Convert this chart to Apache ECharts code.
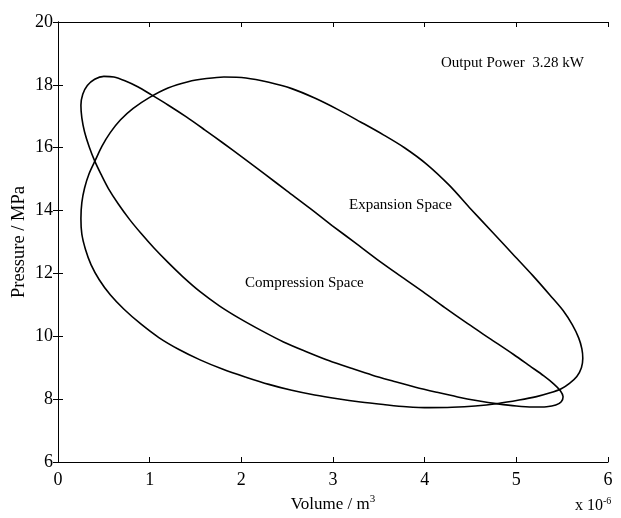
<!DOCTYPE html>
<html>
<head>
<meta charset="utf-8">
<script src="https://cdn.jsdelivr.net/npm/echarts@6/dist/echarts.min.js"></script>
<style>
  html, body { margin: 0; padding: 0; background: #fff; }
  #chart { width: 621px; height: 518px; }
</style>
</head>
<body>
<div id="chart"></div>
<script>
// Expansion space P-V loop (volume in 1e-6 m^3, pressure in MPa), traced clockwise
const expansionV = [4.74, 4.96, 5.18, 5.37, 5.51, 5.61, 5.68, 5.715, 5.725, 5.71, 5.66, 5.58, 5.49, 5.37, 5.22, 5.03, 4.80, 4.55, 4.30, 4.05, 3.80, 3.55, 3.30, 3.05, 2.80, 2.55, 2.30, 2.05, 1.80, 1.55, 1.32, 1.10, 0.90, 0.72, 0.57, 0.45, 0.36, 0.30, 0.26, 0.25, 0.26, 0.29, 0.34, 0.41, 0.48, 0.57, 0.68, 0.82, 1.00, 1.20, 1.42, 1.62, 1.81, 2.05, 2.30, 2.55, 2.80, 3.05, 3.30, 3.55, 3.78, 4.02, 4.27, 4.50, 4.74];
const expansionP = [13.31, 12.62, 11.93, 11.30, 10.82, 10.37, 9.95, 9.60, 9.30, 9.00, 8.72, 8.50, 8.33, 8.20, 8.08, 7.97, 7.86, 7.78, 7.74, 7.73, 7.76, 7.83, 7.91, 8.01, 8.13, 8.28, 8.47, 8.70, 8.95, 9.25, 9.58, 9.96, 10.40, 10.86, 11.32, 11.80, 12.28, 12.76, 13.25, 13.75, 14.25, 14.72, 15.18, 15.62, 16.05, 16.48, 16.88, 17.25, 17.60, 17.90, 18.10, 18.20, 18.25, 18.22, 18.08, 17.88, 17.58, 17.22, 16.82, 16.41, 16.00, 15.48, 14.80, 14.06, 13.31];

// Compression space P-V loop
const compressionV = [2.99, 3.24, 3.48, 3.73, 3.98, 4.22, 4.47, 4.72, 4.97, 5.15, 5.30, 5.41, 5.48, 5.51, 5.49, 5.43, 5.33, 5.18, 5.00, 4.80, 4.58, 4.36, 4.13, 3.90, 3.66, 3.43, 3.20, 2.96, 2.71, 2.46, 2.22, 1.98, 1.76, 1.55, 1.36, 1.20, 1.05, 0.91, 0.78, 0.66, 0.55, 0.47, 0.40, 0.34, 0.29, 0.26, 0.25, 0.27, 0.32, 0.40, 0.50, 0.61, 0.73, 0.87, 1.02, 1.20, 1.40, 1.60, 1.80, 2.02, 2.26, 2.50, 2.75, 2.99];
const compressionP = [13.52, 12.98, 12.45, 11.93, 11.42, 10.91, 10.40, 9.91, 9.42, 9.05, 8.74, 8.48, 8.27, 8.08, 7.92, 7.81, 7.76, 7.75, 7.78, 7.85, 7.95, 8.07, 8.22, 8.38, 8.57, 8.76, 8.98, 9.22, 9.51, 9.82, 10.18, 10.57, 10.97, 11.42, 11.90, 12.35, 12.80, 13.26, 13.72, 14.20, 14.70, 15.15, 15.58, 16.03, 16.50, 16.95, 17.35, 17.70, 17.98, 18.18, 18.27, 18.25, 18.13, 17.94, 17.68, 17.36, 16.98, 16.57, 16.15, 15.68, 15.15, 14.62, 14.07, 13.52];

// Axis ranges and tick spacing
const xRange = [0, 6], xStep = 1;
const yRange = [6, 20], yStep = 2;

const zip = (xs, ys) => xs.map((x, i) => [x, ys[i]]);

const serif = 'Liberation Serif';
const chart = echarts.init(document.getElementById('chart'), null, { renderer: 'canvas' });

const tickStyle = { inside: true, length: 5, lineStyle: { color: '#000', width: 1 } };
const axisLineStyle = { show: true, lineStyle: { color: '#000', width: 1 } };

chart.setOption({
  animation: false,
  backgroundColor: '#fff',
  grid: { left: 58, right: 13, top: 22, bottom: 54, containLabel: false },
  xAxis: [
    {
      type: 'value', min: xRange[0], max: xRange[1], interval: xStep,
      axisLine: axisLineStyle, axisTick: tickStyle, splitLine: { show: false },
      axisLabel: { color: '#000', fontFamily: serif, fontSize: 18, margin: 9, showMinLabel: true, showMaxLabel: true },
      name: '{a|Volume / m}{s|3}', nameLocation: 'middle', nameGap: 32, nameMoveOverlap: false,
      nameTextStyle: {
        rich: {
          a: { fontFamily: serif, fontSize: 17, color: '#000' },
          s: { fontFamily: serif, fontSize: 11, color: '#000', verticalAlign: 'top', padding: [0, 0, 10, 0] }
        }
      }
    },
    {
      type: 'value', position: 'top', min: xRange[0], max: xRange[1], interval: xStep,
      axisLine: axisLineStyle, axisTick: tickStyle, splitLine: { show: false },
      axisLabel: { show: false }
    }
  ],
  yAxis: [
    {
      type: 'value', min: yRange[0], max: yRange[1], interval: yStep,
      axisLine: axisLineStyle, axisTick: tickStyle, splitLine: { show: false },
      axisLabel: { color: '#000', fontFamily: serif, fontSize: 18, margin: 5, showMinLabel: true, showMaxLabel: true },
      name: 'Pressure / MPa', nameLocation: 'middle', nameGap: 29, nameMoveOverlap: false,
      nameTextStyle: { fontFamily: serif, fontSize: 18.5, color: '#000' }
    },
    {
      type: 'value', position: 'right', min: yRange[0], max: yRange[1], interval: yStep,
      axisLine: axisLineStyle, axisTick: tickStyle, splitLine: { show: false },
      axisLabel: { show: false }
    }
  ],
  series: [
    {
      name: 'Expansion Space', type: 'line', data: zip(expansionV, expansionP),
      showSymbol: false, smooth: 0.3, lineStyle: { color: '#000', width: 1.6 }
    },
    {
      name: 'Compression Space', type: 'line', data: zip(compressionV, compressionP),
      showSymbol: false, smooth: 0.3, lineStyle: { color: '#000', width: 1.6 }
    }
  ],
  graphic: [
    { type: 'text', left: 441, top: 56, style: { text: 'Output Power  3.28 kW', font: '15px "Liberation Serif"', fill: '#000' } },
    { type: 'text', left: 349, top: 198, style: { text: 'Expansion Space', font: '15px "Liberation Serif"', fill: '#000' } },
    { type: 'text', left: 245, top: 276, style: { text: 'Compression Space', font: '15px "Liberation Serif"', fill: '#000' } },
    {
      type: 'text', left: 575, top: 496,
      style: {
        text: '{a|x 10}{s|-6}',
        rich: {
          a: { fontFamily: serif, fontSize: 16, fill: '#000', color: '#000' },
          s: { fontFamily: serif, fontSize: 10, fill: '#000', color: '#000', verticalAlign: 'top', padding: [0, 0, 10, 0] }
        }
      }
    }
  ]
});
</script>
</body>
</html>
